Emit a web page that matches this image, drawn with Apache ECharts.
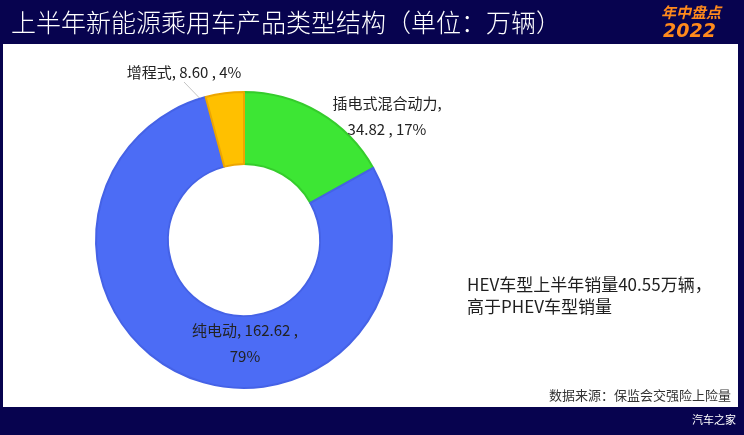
<!DOCTYPE html>
<html>
<head>
<meta charset="utf-8">
<script src="https://cdn.jsdelivr.net/npm/echarts@6/dist/echarts.min.js"></script>
<style>html,body{margin:0;padding:0;background:#07034f;}#c{width:744px;height:435px;}</style>
</head>
<body>
<div id="c"></div>
<script>
var categories = ['插电式混合动力', '纯电动', '增程式'];
var values = [34.82, 162.62, 8.60];
var colors = ['#3de634', '#4c6cf5', '#ffc000'];
var borderColors = ['#35cc2c', '#4562e6', '#eda600'];
var titleText = '上半年新能源乘用车产品类型结构（单位：万辆）';
var noteText = 'HEV车型上半年销量40.55万辆，\n高于PHEV车型销量';
var sourceText = '数据来源：保监会交强险上险量';

var FONT = '"Noto Sans CJK SC", "Noto Sans", sans-serif';
var CENTER = [244, 240];
var RADIUS = [76, 148];
var START_ANGLE = 90;
var LABEL_POS = [[387, 116], [245, 343], [184, 72]];

var chart = echarts.init(document.getElementById('c'), null, {renderer: 'canvas'});

var total = values.reduce(function (s, v) { return s + v; }, 0);
function midAnchor(idx) {
  var before = 0;
  for (var i = 0; i < idx; i++) before += values[i];
  var ang = (START_ANGLE - 360 * (before + values[idx] / 2) / total) * Math.PI / 180;
  var r = (RADIUS[0] + RADIUS[1]) / 2;
  return [CENTER[0] + r * Math.cos(ang), CENTER[1] - r * Math.sin(ang)];
}

var data = categories.map(function (name, i) {
  return {
    name: name,
    value: values[i],
    itemStyle: {color: colors[i], borderColor: borderColors[i], borderWidth: 2},
    labelLine: {show: i === 2}
  };
});

chart.setOption({
  backgroundColor: '#07034f',
  title: {
    text: titleText,
    left: 6,
    top: 5,
    textStyle: {color: '#ffffff', fontSize: 25, fontWeight: 300, fontFamily: FONT}
  },
  graphic: [
    {type: 'rect', z: -10, shape: {x: 3, y: 44, width: 735, height: 363}, style: {fill: '#ffffff'}},
    {type: 'text', left: 661, top: 5, style: {text: '年中盘点', fill: '#ff8a1c', font: 'italic bold 15px ' + FONT}},
    {type: 'text', left: 663, top: 23, style: {text: '2022', fill: '#ff8a1c', font: 'italic bold 19px "DejaVu Sans", sans-serif'}},
    {type: 'text', left: 467, top: 274, style: {text: noteText, fill: '#1f1f1f', font: '17px ' + FONT, lineHeight: 22}},
    {type: 'text', right: 13, top: 389, style: {text: sourceText, fill: '#333333', font: '13px ' + FONT}},
    {type: 'text', right: 8, top: 414, style: {text: '汽车之家', fill: '#ffffff', font: '11px ' + FONT}}
  ],
  series: [{
    type: 'pie',
    center: CENTER,
    radius: RADIUS,
    startAngle: START_ANGLE,
    clockwise: true,
    avoidLabelOverlap: false,
    data: data,
    label: {
      show: true,
      position: 'outside',
      color: '#222222',
      fontSize: 15,
      lineHeight: 26,
      fontFamily: FONT,
      formatter: function (p) {
        var v = p.value.toFixed(2);
        var pc = Math.round(p.percent) + '%';
        if (p.dataIndex === 0) return p.name + ',\n' + v + ' , ' + pc;
        if (p.dataIndex === 1) return p.name + ', ' + v + ' ,\n' + pc;
        return p.name + ', ' + v + ' , ' + pc;
      }
    },
    labelLine: {lineStyle: {color: '#c4c4c4', width: 1}},
    labelLayout: function (p) {
      var pos = LABEL_POS[p.dataIndex];
      var out = {x: pos[0], y: pos[1], align: 'center', verticalAlign: 'middle'};
      if (p.dataIndex === 2) {
        var s = midAnchor(2);
        var e = [pos[0], pos[1] + 10];
        out.labelLinePoints = [s, [(s[0] + e[0]) / 2, (s[1] + e[1]) / 2], e];
      }
      return out;
    },
    emphasis: {disabled: true}
  }]
});
</script>
</body>
</html>
